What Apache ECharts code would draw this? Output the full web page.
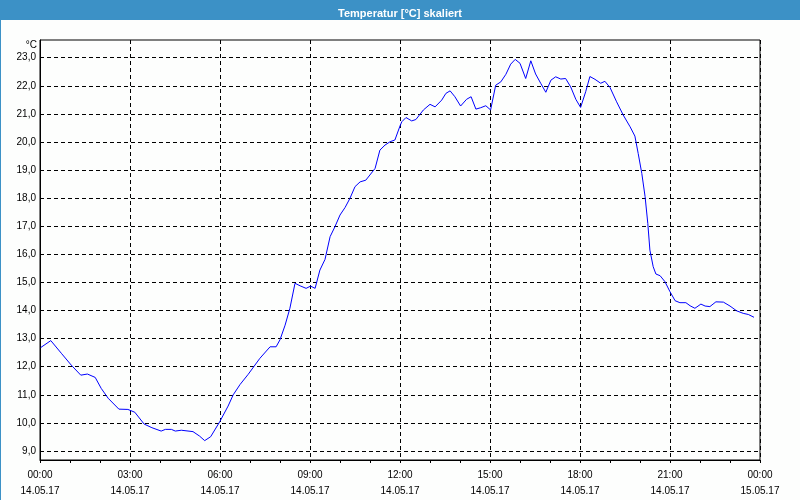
<!DOCTYPE html>
<html>
<head>
<meta charset="utf-8">
<script src="https://cdn.jsdelivr.net/npm/echarts@6/dist/echarts.min.js"></script>
<style>
html,body{margin:0;padding:0;background:#fdfefd;}
#chart{width:800px;height:500px;}
</style>
</head>
<body>
<div id="chart"></div>
<script>
var titleText = 'Temperatur [°C] skaliert';
var unitText = '°C';
var hours = [0.02,0.36,0.71,1.04,1.36,1.58,1.84,2.04,2.27,2.63,2.93,3.16,3.47,3.73,4.04,4.18,4.38,4.51,4.71,5.10,5.32,5.49,5.69,5.99,6.27,6.44,6.67,6.94,7.33,7.67,7.87,8.00,8.17,8.33,8.50,8.67,8.87,9.02,9.17,9.33,9.50,9.67,9.83,10.00,10.17,10.33,10.50,10.67,10.86,11.17,11.33,11.50,11.67,11.83,12.00,12.06,12.20,12.39,12.53,12.78,13.00,13.17,13.39,13.53,13.67,13.83,14.02,14.22,14.37,14.53,14.69,14.86,15.02,15.19,15.36,15.53,15.69,15.84,16.00,16.19,16.36,16.52,16.69,16.86,17.03,17.19,17.36,17.52,17.69,17.86,18.02,18.19,18.33,18.50,18.69,18.83,19.00,19.22,19.44,19.67,19.83,19.94,20.06,20.17,20.26,20.33,20.44,20.53,20.67,20.83,21.00,21.17,21.33,21.53,21.67,21.83,22.03,22.17,22.33,22.53,22.78,23.00,23.22,23.44,23.61,23.80];
var temps = [12.68,12.93,12.48,12.06,11.70,11.74,11.62,11.23,10.88,10.49,10.48,10.38,9.96,9.83,9.71,9.77,9.77,9.71,9.74,9.69,9.53,9.37,9.51,10.04,10.60,11.00,11.37,11.73,12.30,12.71,12.71,12.96,13.48,14.08,14.97,14.88,14.79,14.87,14.79,15.44,15.82,16.63,16.98,17.40,17.67,17.99,18.41,18.58,18.64,19.06,19.71,19.89,20.01,20.07,20.57,20.72,20.87,20.75,20.80,21.14,21.34,21.25,21.49,21.73,21.82,21.61,21.28,21.52,21.61,21.17,21.22,21.29,21.14,22.02,22.14,22.41,22.77,22.94,22.80,22.26,22.89,22.42,22.09,21.77,22.20,22.32,22.24,22.26,21.96,21.52,21.23,21.79,22.33,22.23,22.09,22.16,21.94,21.43,20.96,20.54,20.21,19.59,18.88,18.05,17.10,16.15,15.56,15.30,15.24,15.03,14.67,14.35,14.28,14.28,14.17,14.08,14.23,14.16,14.14,14.31,14.30,14.16,13.99,13.90,13.86,13.76];
var yTicks = [9,10,11,12,13,14,15,16,17,18,19,20,21,22,23];
var xTimeLabels = ['00:00','03:00','06:00','09:00','12:00','15:00','18:00','21:00','00:00'];
var xDateLabels = ['14.05.17','14.05.17','14.05.17','14.05.17','14.05.17','14.05.17','14.05.17','14.05.17','15.05.17'];

var seriesData = hours.map(function(h, i){ return [h, temps[i]]; });
var FONT = 'Liberation Sans';

var chart = echarts.init(document.getElementById('chart'), null, {renderer:'canvas'});
chart.setOption({
  animation: false,
  backgroundColor: '#fdfefd',
  title: {
    text: titleText,
    left: 'center',
    top: 3,
    textStyle: {color:'#ffffff', fontFamily: FONT, fontSize: 11, fontWeight: 'bold'}
  },
  graphic: [
    {type:'rect', z:-1, shape:{x:0,y:0,width:800,height:20}, style:{fill:'#3c91c6'}},
    {type:'rect', z:-1, shape:{x:0,y:0,width:1,height:500}, style:{fill:'#3c91c6'}},
    {type:'text', style:{text: unitText, x:37, y:45, align:'right', verticalAlign:'middle', fill:'#000', font:'10px ' + FONT}}
  ],
  grid: {left:40, right:40, top:40, bottom:40, show:true, borderColor:'#000', borderWidth:1, backgroundColor:'transparent', containLabel:false},
  xAxis: {
    type:'value', min:0, max:24, interval:3,
    axisLine:{show:true, lineStyle:{color:'#000', width:1}},
    axisTick:{show:true, length:3, lineStyle:{color:'#000'}},
    minorTick:{show:true, splitNumber:3, length:3, lineStyle:{color:'#000'}},
    splitLine:{show:true, lineStyle:{color:'#000', type:[4,3], width:1}},
    axisLabel:{
      margin:7, color:'#000', fontFamily:FONT, fontSize:10, lineHeight:16,
      formatter:function(v){ var i = Math.round(v/3); return xTimeLabels[i] + '\n' + xDateLabels[i]; }
    }
  },
  yAxis: {
    type:'value', min:8.68, max:23.63,
    axisLine:{show:true, lineStyle:{color:'#000', width:1}},
    axisTick:{show:false, customValues: yTicks},
    splitLine:{show:true, lineStyle:{color:'#000', type:[4,3], width:1}},
    axisLabel:{
      margin:4, color:'#000', fontFamily:FONT, fontSize:10, customValues: yTicks,
      formatter:function(v){ return v.toFixed(1).replace('.', ','); }
    }
  },
  series: [{
    type:'line', data: seriesData, showSymbol:false, symbol:'none',
    lineStyle:{color:'#0000ff', width:1}, silent:true
  }]
});
</script>
</body>
</html>
